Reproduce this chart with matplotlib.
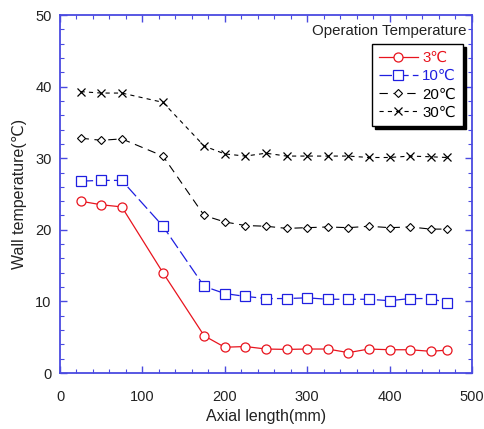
import matplotlib
matplotlib.use("Agg")
import matplotlib.pyplot as plt
from matplotlib.ticker import MultipleLocator

plt.rcParams['font.family'] = ['Liberation Sans', 'DejaVu Sans']
plt.rcParams['lines.scale_dashes'] = False

x = [25, 50, 75, 125, 175, 200, 225, 250, 275, 300, 325, 350, 375, 400, 425, 450, 470]
t3 = [24.0, 23.5, 23.2, 14.0, 5.2, 3.6, 3.7, 3.35, 3.3, 3.35, 3.35, 2.85, 3.35, 3.25, 3.25, 3.03, 3.2]
t10 = [26.8, 26.9, 26.9, 20.5, 12.1, 11.1, 10.7, 10.4, 10.4, 10.5, 10.3, 10.3, 10.3, 10.1, 10.4, 10.4, 9.8]
t20 = [32.8, 32.5, 32.7, 30.3, 22.0, 21.1, 20.6, 20.5, 20.2, 20.3, 20.4, 20.3, 20.5, 20.3, 20.4, 20.1, 20.1]
t30 = [39.3, 39.1, 39.1, 37.8, 31.7, 30.6, 30.3, 30.7, 30.3, 30.3, 30.3, 30.3, 30.1, 30.1, 30.3, 30.2, 30.1]
labels = ['3℃', '10℃', '20℃', '30℃']

fig = plt.figure(figsize=(4.84, 4.29), dpi=100)
ax = fig.add_axes([0.124, 0.1305, 0.851, 0.8345])

spine_c = '#4a4ae0'
ax.plot(x, t3, color='#e8141e', lw=0.9, marker='o', ms=6.5, mfc='white', mec='#e8141e', mew=0.9, label=labels[0])
ax.plot(x, t10, color='#1f1fe0', lw=0.9, marker='s', ms=6.5, mfc='white', mec='#1f1fe0', mew=0.9,
        dashes=(9, 3), label=labels[1])
ax.plot(x, t20, color='black', lw=0.8, marker='D', ms=4.5, mfc='white', mec='black', mew=0.8,
        dashes=(6, 4), label=labels[2])
ax.plot(x, t30, color='black', lw=0.8, marker='x', ms=6, mec='black', mew=0.9,
        dashes=(3, 3), label=labels[3])

ax.set_xlim(0, 500)
ax.set_ylim(0, 50)
ax.xaxis.set_major_locator(MultipleLocator(100))
ax.xaxis.set_minor_locator(MultipleLocator(20))
ax.yaxis.set_major_locator(MultipleLocator(10))
ax.yaxis.set_minor_locator(MultipleLocator(2))
ax.tick_params(which='both', direction='in', top=True, right=True, color=spine_c, labelsize=10.5,
               labelcolor='#222222')
ax.tick_params(which='major', length=5, width=1)
ax.tick_params(which='minor', length=3, width=0.8)
ax.tick_params(axis='x', pad=12)
ax.tick_params(axis='y', pad=6)
for s in ax.spines.values():
    s.set_color(spine_c)
    s.set_linewidth(1.3)

ax.set_xlabel('Axial length(mm)', fontsize=11.5, color='#222222', labelpad=4)
ax.set_ylabel('Wall temperature(℃)', fontsize=11.5, color='#222222', labelpad=6)

ax.text(0.987, 0.955, 'Operation Temperature', transform=ax.transAxes, ha='right', va='center',
        fontsize=10.8, color='#222222')
leg = ax.legend(loc='upper right', bbox_to_anchor=(0.978, 0.918), borderaxespad=0, numpoints=1,
                handlelength=2.6, fontsize=10.8, labelcolor='linecolor', fancybox=False, framealpha=1,
                edgecolor='black', borderpad=0.45, labelspacing=0.28, handletextpad=0.3,
                shadow={'color': 'black', 'alpha': 1})
leg.get_frame().set_linewidth(1.0)

fig.savefig('out.png', dpi=100)
